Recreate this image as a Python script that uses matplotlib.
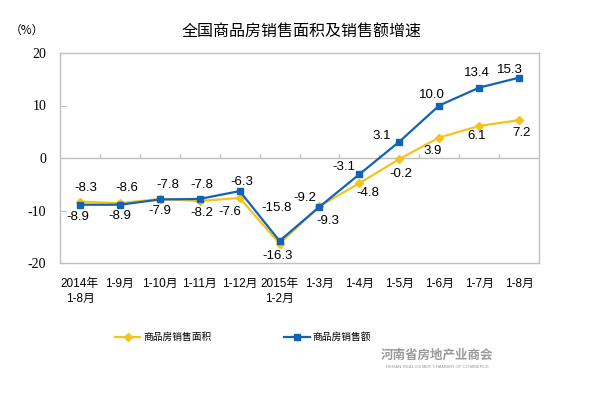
import matplotlib
matplotlib.use("Agg")
import matplotlib.pyplot as plt

plt.rcParams['font.family'] = ['Liberation Sans', 'Noto Sans CJK SC']

# categories and values (%)
periods = ['2014年\n1-8月', '1-9月', '1-10月', '1-11月', '1-12月', '2015年\n1-2月',
           '1-3月', '1-4月', '1-5月', '1-6月', '1-7月', '1-8月']
area_growth = [-8.3, -8.6, -7.8, -8.2, -7.6, -16.3, -9.2, -4.8, -0.2, 3.9, 6.1, 7.2]
sales_growth = [-8.9, -8.9, -7.9, -7.8, -6.3, -15.8, -9.3, -3.1, 3.1, 10.0, 13.4, 15.3]

# label offsets in pixels (dx, dy)
area_off = [(6, 14), (7, 15), (8, 14), (2, -12), (-10, -14), (-2, -12),
            (-15, 8), (8, -10), (2, -15), (-7, -13), (-2, -10), (2, -13)]
sales_off = [(-2, -12), (0, -11), (0, -12), (2, 14), (2, 9), (-3, 33),
             (8, -14), (-15, 7), (-18, 6), (-7, 10), (-2, 15), (-9, 8)]

yellow = '#F7C21B'
blue = '#1262B8'
grid_gray = '#BFBFBF'

fig = plt.figure(figsize=(5.95, 3.96), dpi=100)
ax = fig.add_axes([60 / 595, 1 - 263 / 396, 479 / 595, 210 / 396])

x = list(range(len(periods)))
ax.plot(x, area_growth, color=yellow, lw=1.6, marker='D', ms=4.5, label='商品房销售面积')
ax.plot(x, sales_growth, color=blue, lw=1.6, marker='s', ms=4.5, label='商品房销售额')

for i in x:
    ax.annotate(f'{area_growth[i]:.1f}', (i, area_growth[i]), xytext=area_off[i],
                textcoords='offset pixels', ha='center', va='center', fontsize=9.5)
    ax.annotate(f'{sales_growth[i]:.1f}', (i, sales_growth[i]), xytext=sales_off[i],
                textcoords='offset pixels', ha='center', va='center', fontsize=9.5)

ax.set_xlim(-0.5, len(periods) - 0.5)
ax.set_ylim(-20, 20)
ax.set_yticks([-20, -10, 0, 10, 20])
ax.set_yticklabels(['-20', '-10', '0', '10', '20'], family='Liberation Serif', fontsize=10)
ax.set_xticks(x)
ax.set_xticklabels(periods, fontsize=8.5, linespacing=1.3)
ax.tick_params(axis='x', length=0, pad=11)
ax.tick_params(axis='y', length=4, direction='in', color=grid_gray, pad=10)

# zero line with category separators
ax.axhline(0, color=grid_gray, lw=1, zorder=0)
ax.vlines([i + 0.5 for i in x[:-1]], 0, 0.8, color=grid_gray, lw=1, zorder=0)

for s in ax.spines.values():
    s.set_color(grid_gray)
    s.set_linewidth(1)

fig.text(302 / 595, 1 - 32 / 396, '全国商品房销售面积及销售额增速', ha='center', va='center',
         fontsize=11.5, family='Noto Sans CJK SC')
fig.text(27 / 595, 1 - 30 / 396, '（%）', ha='center', va='center', fontsize=8.5,
         family='Noto Sans CJK SC')

fig.legend(loc='center', bbox_to_anchor=(243 / 595, 1 - 337 / 396), ncol=2, frameon=False,
           fontsize=7, handlelength=2.6, columnspacing=7.5, handletextpad=0.3)

fig.text(437 / 595, 1 - 355 / 396, '河南省房地产业商会', ha='center', va='center',
         fontsize=9, weight='bold', color='#9A9A9A', family='Noto Sans CJK SC')
fig.text(437 / 595, 1 - 367 / 396, 'HENAN REAL ESTATE CHAMBER OF COMMERCE', ha='center',
         va='center', fontsize=3.2, color='#9A9A9A')

fig.savefig('out.png', dpi=100)
